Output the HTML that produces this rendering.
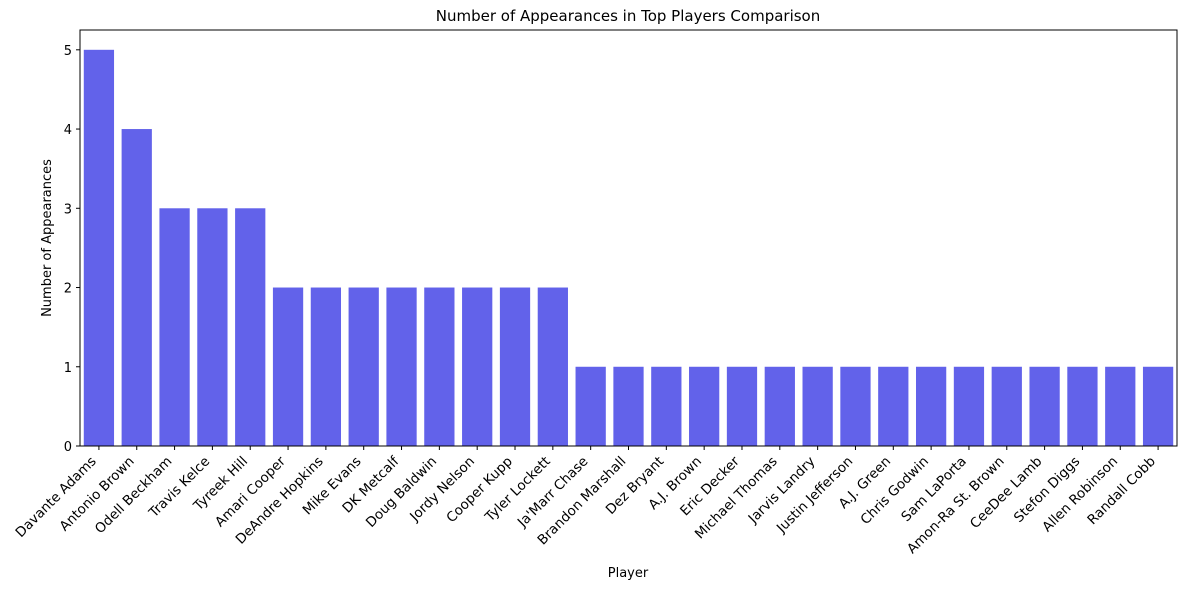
<!DOCTYPE html>
<html><head><meta charset="utf-8"><style>
body{margin:0;background:#fff;}
svg text{font-family:"DejaVu Sans","Liberation Sans",sans-serif;fill:#000;}
</style></head><body>
<svg id="chart" width="1187" height="590" viewBox="0 0 1187 590">
<rect x="0" y="0" width="1187" height="590" fill="#fff"/>
<text x="628" y="21" font-size="15" text-anchor="middle">Number of Appearances in Top Players Comparison</text>
<g id="bars"></g>
<g id="yaxis"></g>
<g id="xaxis"></g>
<rect x="80" y="30" width="1097" height="416" fill="none" stroke="#000" stroke-width="1"/>
<text x="628" y="577" font-size="13" text-anchor="middle">Player</text>
<text transform="translate(51,238) rotate(-90)" font-size="13" text-anchor="middle">Number of Appearances</text>
</svg>
<script>
const players=["Davante Adams","Antonio Brown","Odell Beckham","Travis Kelce","Tyreek Hill","Amari Cooper","DeAndre Hopkins","Mike Evans","DK Metcalf","Doug Baldwin","Jordy Nelson","Cooper Kupp","Tyler Lockett","Ja'Marr Chase","Brandon Marshall","Dez Bryant","A.J. Brown","Eric Decker","Michael Thomas","Jarvis Landry","Justin Jefferson","A.J. Green","Chris Godwin","Sam LaPorta","Amon-Ra St. Brown","CeeDee Lamb","Stefon Diggs","Allen Robinson","Randall Cobb"];
const appearances=[5,4,3,3,3,2,2,2,2,2,2,2,2,1,1,1,1,1,1,1,1,1,1,1,1,1,1,1,1];
const yTicks=[0,1,2,3,4,5];
const NS="http://www.w3.org/2000/svg";
const L=80,R=1177,T=30,B=446,yMax=5.25;
const step=(R-L)/players.length;
function xCenter(i){return L+step*(i+0.5);}
function yPos(v){return B-(v/yMax)*(B-T);}
const bars=document.getElementById('bars'),xa=document.getElementById('xaxis'),ya=document.getElementById('yaxis');
function mk(tag,attrs){const e=document.createElementNS(NS,tag);for(const k in attrs)e.setAttribute(k,attrs[k]);return e;}
players.forEach((p,i)=>{
  const w=step*0.8,y=yPos(appearances[i]);
  const r=mk('rect',{x:xCenter(i)-w/2,y:y,width:w,height:B-y,fill:'#6262EA'});
  
  
  bars.appendChild(r);
  const t=mk('line',{x1:xCenter(i),x2:xCenter(i),y1:B,y2:B+4,stroke:'#000'});
  
  
  xa.appendChild(t);
  const tx=mk('text',{transform:`translate(${xCenter(i)-2},${B+16}) rotate(-45)`,'font-size':'13.5','text-anchor':'end'});
  tx.textContent=p;
  
  
  xa.appendChild(tx);
});
yTicks.forEach(v=>{
  const y=yPos(v);
  const t=mk('line',{x1:L-4,x2:L,y1:y,y2:y,stroke:'#000'});
  
  
  ya.appendChild(t);
  const tx=mk('text',{x:L-8,y:y+5,'font-size':'13','text-anchor':'end'});
  tx.textContent=v;
  
  
  ya.appendChild(tx);
});
</script>
</body></html>
